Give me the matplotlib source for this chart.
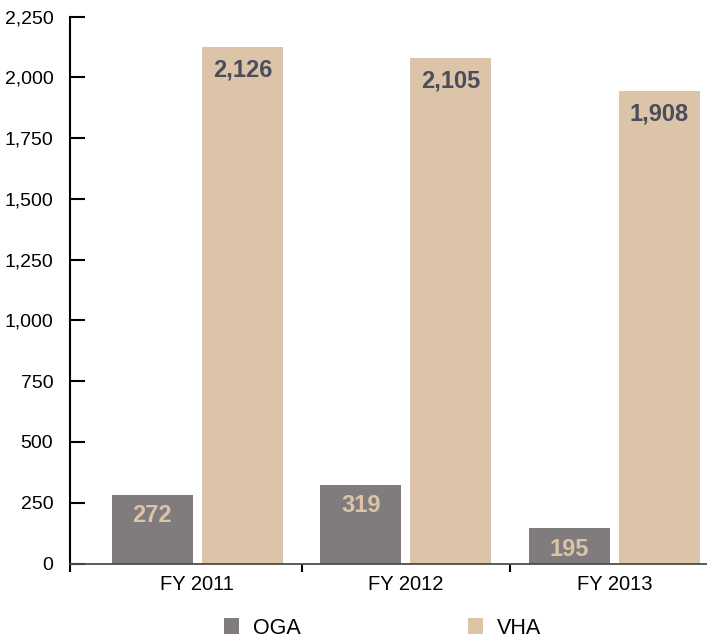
#!/usr/bin/env python3
"""Grouped bar chart: OGA vs VHA counts, FY 2011-2013."""
import matplotlib
matplotlib.use("Agg")
import matplotlib.pyplot as plt
from matplotlib.patches import Patch

years = ["FY 2011", "FY 2012", "FY 2013"]
series = ["OGA", "VHA"]
# bar heights as drawn in the source chart
oga_heights = [282, 323, 145]
vha_heights = [2127, 2080, 1944]
# printed values on the bars
oga_labels = ["272", "319", "195"]
vha_labels = ["2,126", "2,105", "1,908"]
y_ticks = [0, 250, 500, 750, 1000, 1250, 1500, 1750, 2000, 2250]

GRAY = "#807b7c"
BEIGE = "#dbc4a8"
DARK = "#4b4c5c"
FONT = ["Liberation Sans", "DejaVu Sans"]
plt.rcParams["font.family"] = FONT

fig = plt.figure(figsize=(7.07, 6.39), dpi=100)
ax = fig.add_axes([70 / 707, 1 - 563.5 / 639, 1 - 70 / 707, (563.5 - 16.7) / 639])

x = list(range(len(years)))
w = 0.388
off = 0.216
bars_o = ax.bar([i - off for i in x], oga_heights, w, color=GRAY, zorder=2)
bars_v = ax.bar([i + off for i in x], vha_heights, w, color=BEIGE, zorder=2)

for bar, lab in zip(bars_o, oga_labels):
    ax.annotate(lab, (bar.get_x() + bar.get_width() / 2, bar.get_height()),
                xytext=(0, -15), textcoords="offset points", ha="center", va="center",
                color=BEIGE, fontsize=17, fontweight="bold")
for bar, lab in zip(bars_v, vha_labels):
    ax.annotate(lab, (bar.get_x() + bar.get_width() / 2, bar.get_height()),
                xytext=(0, -16.5), textcoords="offset points", ha="center", va="center",
                color=DARK, fontsize=17, fontweight="bold")

xmin, xmax = -0.611, 2.444
ax.set_xlim(xmin, xmax)
ax.set_ylim(0, 2250)

ax.set_yticks(y_ticks)
ax.set_yticklabels([f"{v:,}" for v in y_ticks], fontsize=14)
ax.tick_params(axis="y", direction="in", length=11, width=1.5, pad=12, color="black")

ax.set_xticks(x)
ax.set_xticklabels(years, fontsize=14.5)
ax.tick_params(axis="x", which="major", length=0, pad=8)
ax.set_xticks([xmin, 0.5, 1.5], minor=True)
ax.tick_params(axis="x", which="minor", direction="out", length=6, width=1.5, color="black")

for s in ["top", "right"]:
    ax.spines[s].set_visible(False)
ax.spines["left"].set_linewidth(1.5)
ax.spines["bottom"].set_linewidth(1.3)
ax.spines["bottom"].set_color("#4d4d4d")

handles = [Patch(facecolor=GRAY, label=series[0]), Patch(facecolor=BEIGE, label=series[1])]
fig.legend(handles=handles, loc="center", bbox_to_anchor=(0.541, 1 - 628 / 639), ncol=2,
           frameon=False, prop={"size": 15.5},
           handlelength=0.7, handleheight=0.7, handletextpad=0.62, columnspacing=7.8)

fig.savefig("out.png", dpi=100)
